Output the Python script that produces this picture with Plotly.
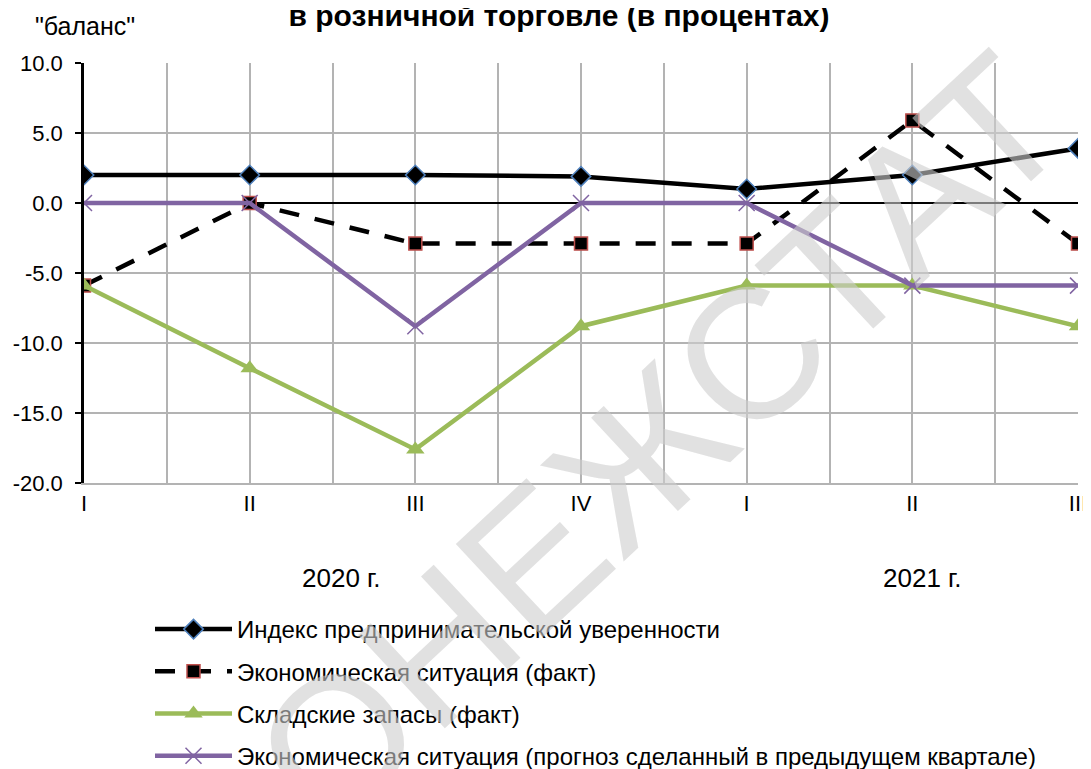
import plotly.graph_objects as go

# кварталы 2020-2021
QUARTERS = ["I", "II", "III", "IV", "I", "II", "III"]
X = list(range(len(QUARTERS)))

INDEX_CONF = [2.0, 2.0, 2.0, 1.9, 1.0, 2.0, 3.9]
ECON_FACT = [-5.9, 0.0, -2.9, -2.9, -2.9, 5.9, -2.9]
STOCKS_FACT = [-5.9, -11.8, -17.6, -8.8, -5.9, -5.9, -8.8]
ECON_FORECAST = [0.0, 0.0, -8.8, 0.0, 0.0, -5.9, -5.9]

NAMES = [
    "Индекс предпринимательской уверенности",
    "Экономическая ситуация (факт)",
    "Складские запасы (факт)",
    "Экономическая ситуация (прогноз сделанный в предыдущем квартале)",
]
Y_TICKS = [-20, -15, -10, -5, 0, 5, 10]
YEARS = ["2020 г.", "2021 г."]

FONT = "Liberation Sans, Arial, sans-serif"
GRID = "#b3b3b3"

# страница сдвигает рисунок на 8 px (отступ body), поэтому всё считаем
# в экранных пикселях и вычитаем смещение
OFF = 8
W, H = 1091, 769
L, T = 84 - OFF, 63 - OFF
R, B = W - (1078 - OFF), H - (483 - OFF)
PW, PH = W - L - R, H - T - B


def px_x(x):
    return (x - OFF - L) / PW


def px_y(y):
    return (H - B - (y - OFF)) / PH


fig = go.Figure()
fig.add_trace(go.Scatter(
    x=X, y=INDEX_CONF, name=NAMES[0], legendgroup="a", mode="lines+markers",
    line=dict(color="black", width=4.5),
    marker=dict(symbol="diamond", size=15, color="black",
                line=dict(color="#4f81bd", width=1.5)),
))
fig.add_trace(go.Scatter(
    x=X, y=ECON_FACT, name=NAMES[1], legendgroup="b", mode="lines+markers",
    line=dict(color="black", width=4.5, dash="20px,16px"),
    marker=dict(symbol="square", size=13, color="black",
                line=dict(color="#c0504d", width=1.5)),
))
fig.add_trace(go.Scatter(
    x=X, y=STOCKS_FACT, name=NAMES[2], legendgroup="c", mode="lines+markers",
    line=dict(color="#9bbb59", width=4.5),
    marker=dict(symbol="triangle-up", size=16, color="#9bbb59"),
))
fig.add_trace(go.Scatter(
    x=X, y=ECON_FORECAST, name=NAMES[3], legendgroup="d", mode="lines+markers",
    line=dict(color="#8064a2", width=4.5),
    marker=dict(symbol="x-thin", size=16, color="#8064a2",
                line=dict(color="#8064a2", width=1.5)),
))

for xpix, txt in zip((341, 922), YEARS):
    fig.add_annotation(x=px_x(xpix), xref="paper", y=px_y(578), yref="paper",
                       text=txt, showarrow=False,
                       xanchor="center", yanchor="middle", font=dict(size=26))

fig.add_annotation(x=px_x(85), xref="paper", y=px_y(26), yref="paper",
                   text='"баланс"', showarrow=False,
                   xanchor="center", yanchor="middle", font=dict(size=25))

# водяной знак
fig.add_annotation(x=px_x(660), y=px_y(440), xref="paper", yref="paper",
                   text="ОНЕЖСТАТ", showarrow=False, textangle=-43,
                   xanchor="center", yanchor="middle",
                   font=dict(size=185, color="rgba(205,205,205,0.6)"))

fig.update_layout(
    width=W, height=H,
    paper_bgcolor="white", plot_bgcolor="white",
    font=dict(family=FONT, size=22, color="black"),
    title=dict(text="<b>в розничной торговле (в процентах)</b>",
               x=(559 - OFF) / W, xanchor="center",
               y=1 - 7 / H, yanchor="middle", font=dict(size=30)),
    margin=dict(l=L, r=R, t=T, b=B, autoexpand=False),
    showlegend=True,
    legend=dict(x=px_x(150), y=px_y(607), xanchor="left", yanchor="top",
                tracegroupgap=8, itemwidth=77, font=dict(size=24),
                bgcolor="rgba(0,0,0,0)"),
    xaxis=dict(
        range=[0, 6], tickmode="array", tickvals=X, ticktext=QUARTERS,
        showgrid=True, gridcolor=GRID, gridwidth=1.5,
        minor=dict(tickmode="linear", tick0=0, dtick=0.5, showgrid=True,
                   gridcolor=GRID, gridwidth=1.5),
        showline=True, linecolor=GRID, linewidth=1.5,
        ticks="", zeroline=False, ticklabelstandoff=0, automargin=False,
    ),
    yaxis=dict(
        range=[-20, 10], tickmode="array", tickvals=Y_TICKS,
        ticktext=[f"{v:.1f}" for v in Y_TICKS],
        showgrid=True, gridcolor=GRID, gridwidth=1.5,
        zeroline=True, zerolinecolor="black", zerolinewidth=1.5,
        showline=True, linecolor="black", linewidth=2.5,
        ticks="outside", ticklen=6, tickwidth=2, tickcolor="black",
        ticklabelstandoff=8, automargin=False,
    ),
)

fig.write_html("out.html")
